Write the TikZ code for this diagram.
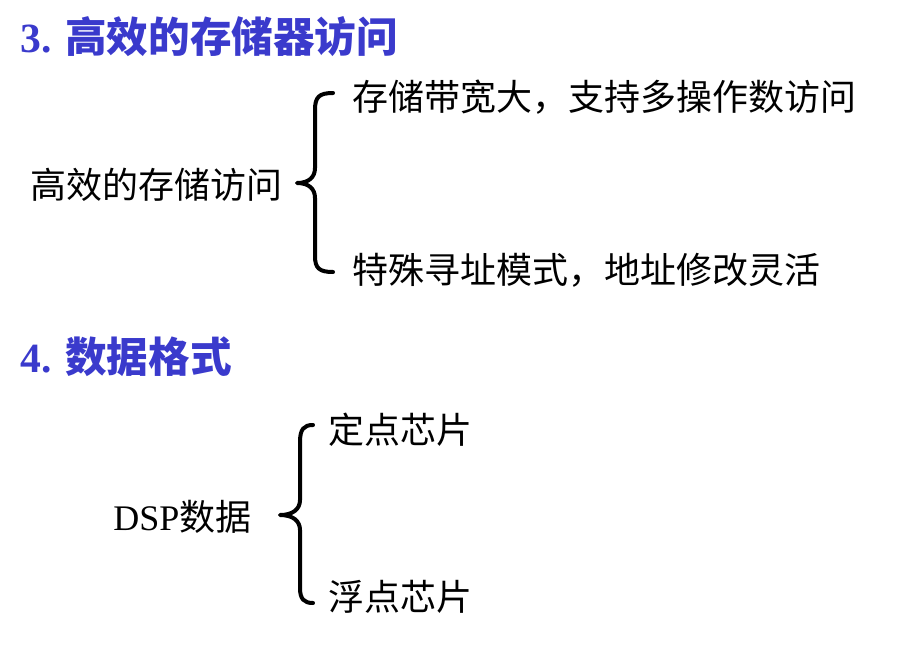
\documentclass[tikz,border=0pt]{standalone}
\usepackage{fontspec}
\setmainfont{Liberation Serif}
\newfontfamily\cjk{Noto Sans CJK SC}
\definecolor{headblue}{RGB}{58,58,204}

\begin{document}
\begin{tikzpicture}[x=0.75pt, y=-0.75pt,
  heading/.style={anchor=west, inner sep=0pt, text=headblue, font=\fontsize{31.2}{33}\selectfont\bfseries},
  item/.style={anchor=west, inner sep=0pt, font=\fontsize{27}{29}\selectfont\cjk},
  brace/.style={line width=3pt, line cap=round, line join=round}]
  \useasboundingbox (0,0) rectangle (922,651);

  % 3. 存储器访问
  \node[heading] (head3) at (20,37) {3. {\cjk 高效的存储器访问}};
  \node[item] (root1) at (30,185) {高效的存储访问};
  \node[item] (wide) at (352,97) {存储带宽大，支持多操作数访问};
  \node[item] (addr) at (352,270) {特殊寻址模式，地址修改灵活};
  \draw[brace] (333,93) .. controls (319,93) and (315,97) .. (315,110) -- (315,168)
    .. controls (315,177) and (309,183) .. (297,183)
    .. controls (309,183) and (315,189) .. (315,198) -- (315,256)
    .. controls (315,268) and (319,272) .. (333,272);

  % 4. 数据格式
  \node[heading] (head4) at (20,357) {4. {\cjk 数据格式}};
  \node[item] (root2) at (113,517) {{\rmfamily DSP}数据};
  \node[item] (fixed) at (328,430) {定点芯片};
  \node[item] (float) at (328,597) {浮点芯片};
  \draw[brace] (313,425) .. controls (304,425) and (300,429) .. (300,442) -- (300,500)
    .. controls (300,509) and (293,515) .. (280,515)
    .. controls (293,515) and (300,521) .. (300,530) -- (300,588)
    .. controls (300,599) and (304,603) .. (313,603);
\end{tikzpicture}
\end{document}
